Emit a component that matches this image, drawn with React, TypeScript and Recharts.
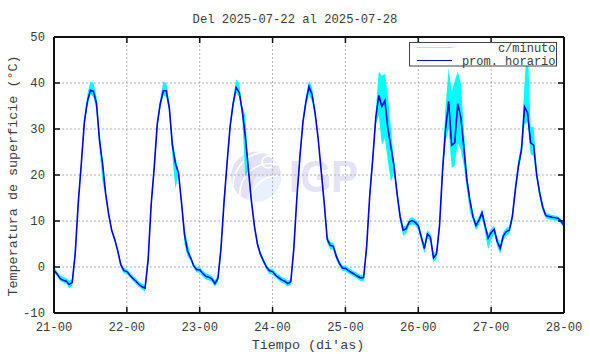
import { Area, CartesianGrid, ComposedChart, Line, XAxis, YAxis } from 'recharts';

// Temperatura de superficie, semana del 2025-07-22 (eje desde 21-00)
const etiquetasDias = ['21-00', '22-00', '23-00', '24-00', '25-00', '26-00', '27-00', '28-00'];
const ticksHoras = [0, 24, 48, 72, 96, 120, 144, 168];
const ticksTemp = [-10, 0, 10, 20, 30, 40, 50];

// promedio horario (una entrada por hora, 21-00 .. 28-00)
const promHorario = [
  -0.7, -1.5, -2.5, -2.9, -3.1, -3.8, -3.4, 3.0, 14.0, 22.5, 31.5, 36.0, 38.4, 38.2, 35.5, 27.5, 22.5, 16.0, 11.5, 8.0, 6.0, 3.5, 0.5, -0.8,
  -1.0, -1.8, -2.5, -3.1, -3.8, -4.3, -4.6, 1.5, 13.5, 21.5, 31.0, 35.5, 38.3, 38.3, 34.5, 26.5, 22.5, 20.5, 14.0, 7.0, 3.5, 2.0, 0.3, -0.6,
  -0.6, -1.4, -2.0, -2.2, -2.6, -3.6, -2.5, 4.0, 14.0, 22.5, 30.5, 35.5, 39.0, 38.0, 34.0, 28.5, 21.5, 14.5, 9.0, 5.0, 2.8, 1.3, 0.0, -0.8,
  -1.0, -1.8, -2.3, -2.8, -3.1, -3.6, -3.2, 4.0, 15.0, 24.0, 31.5, 36.0, 39.2, 37.5, 33.5, 28.0, 21.0, 14.0, 6.0, 4.7, 4.5, 2.3, 0.8, -0.2,
  -0.3, -0.8, -1.2, -1.6, -2.0, -2.4, -2.3, 4.5, 15.5, 23.5, 32.5, 37.3, 34.9, 36.2, 30.0, 26.0, 22.0, 16.0, 11.0, 8.0, 8.3, 9.8, 10.1, 9.7,
  9.0, 6.5, 4.0, 7.2, 6.5, 2.0, 2.8, 9.0, 21.0, 30.0, 36.0, 26.5, 27.0, 35.5, 32.5, 26.0, 19.0, 14.5, 11.0, 9.0, 10.2, 11.8, 9.0, 6.3,
  7.5, 8.2, 5.5, 4.0, 6.8, 7.7, 8.0, 11.0, 17.0, 22.0, 25.5, 34.8, 33.5, 27.0, 26.5, 20.0, 16.0, 13.0, 11.2, 11.0, 10.8, 10.7, 10.6, 10.0,
  9.0,
];

// datos c/minuto: maximo y minimo dentro de cada hora
const minutoMax = [
  0.0, -1.0, -1.8, -2.2, -2.4, -3.0, -2.6, 4.5, 15.0, 23.5, 32.5, 37.5, 40.3, 40.0, 37.0, 29.0, 23.0, 16.5, 12.0, 8.4, 6.5, 4.0, 1.0, -0.2,
  -0.5, -1.2, -1.9, -2.5, -3.2, -3.7, -3.8, 2.5, 14.5, 22.5, 32.0, 36.5, 40.3, 40.0, 35.5, 27.5, 24.0, 21.0, 14.5, 8.5, 5.2, 2.5, 0.8, 0.0,
  0.0, -0.8, -1.4, -1.6, -2.0, -2.9, -1.8, 5.0, 15.0, 23.5, 31.5, 36.5, 40.8, 40.0, 35.0, 33.0, 22.0, 15.0, 9.5, 5.6, 3.3, 1.8, 0.5, -0.3,
  -0.4, -1.2, -1.7, -2.2, -2.5, -3.0, -2.6, 5.0, 16.0, 25.0, 32.5, 37.0, 40.5, 39.0, 34.0, 28.5, 21.5, 14.5, 6.8, 5.5, 5.2, 3.0, 1.4, 0.3,
  0.3, -0.2, -0.6, -1.0, -1.4, -1.8, -1.6, 5.5, 16.5, 24.5, 34.0, 42.5, 41.5, 42.0, 37.0, 30.0, 23.0, 17.0, 12.0, 8.8, 9.0, 10.5, 10.8, 10.3,
  9.8, 7.2, 4.8, 8.0, 7.2, 3.0, 3.5, 10.0, 23.0, 35.0, 43.2, 38.0, 40.5, 42.5, 40.0, 30.0, 20.5, 15.5, 12.0, 9.8, 11.0, 12.5, 9.8, 7.2,
  8.3, 9.0, 6.5, 5.0, 7.6, 8.5, 8.8, 12.0, 18.0, 23.5, 27.0, 40.0, 49.5, 30.5, 30.5, 21.0, 17.0, 13.8, 11.8, 11.5, 11.3, 11.2, 11.0, 10.5,
  9.4,
];
const minutoMin = [
  -1.2, -2.0, -3.0, -3.3, -3.6, -4.6, -4.0, 2.5, 13.0, 21.5, 30.5, 35.0, 37.5, 37.0, 34.0, 25.5, 18.5, 15.5, 11.0, 7.6, 5.5, 3.0, 0.0, -1.3,
  -1.5, -2.3, -3.0, -3.7, -4.3, -4.9, -5.3, 0.5, 12.5, 20.5, 30.0, 34.5, 37.3, 37.0, 33.5, 24.0, 17.0, 20.0, 13.5, 5.0, 2.3, 1.4, -0.2, -1.2,
  -1.2, -2.1, -2.7, -2.9, -3.2, -4.3, -3.2, 3.0, 13.0, 21.5, 29.5, 34.5, 37.8, 37.0, 33.0, 19.5, 21.0, 14.0, 8.5, 4.4, 2.3, 0.8, -0.6, -1.6,
  -1.6, -2.4, -2.9, -3.4, -3.7, -4.3, -3.8, 3.0, 14.0, 23.0, 30.5, 35.0, 37.5, 36.0, 33.0, 27.5, 20.5, 13.5, 5.2, 3.8, 3.8, 1.6, 0.2, -0.8,
  -0.9, -1.4, -1.8, -2.2, -2.6, -3.1, -3.0, 3.5, 14.5, 22.5, 31.0, 33.0, 26.5, 28.0, 23.0, 18.5, 20.5, 15.0, 10.0, 6.8, 7.3, 9.0, 9.3, 9.0,
  8.0, 5.5, 3.0, 6.3, 5.5, 1.0, 1.8, 8.0, 19.5, 27.5, 30.0, 21.5, 22.0, 27.0, 25.5, 22.0, 17.0, 12.0, 10.0, 8.0, 9.2, 10.8, 7.5, 3.8,
  6.0, 7.3, 4.5, 2.8, 5.8, 6.8, 7.2, 10.0, 16.0, 21.0, 24.5, 31.0, 31.5, 24.5, 24.0, 19.0, 15.0, 12.2, 10.6, 10.4, 10.2, 10.1, 10.0, 9.4,
  8.6,
];

const rows = promHorario.map((v, i) => ({ t: i, prom: v, rango: [minutoMin[i], minutoMax[i]] }));

const W = 590;
const H = 354;
const FONT = '"Liberation Mono", "DejaVu Sans Mono", monospace';
const INK = '#3c3c3c';

function LeftTick({ x, y, payload }: any) {
  return (
    <g>
      <line x1={x} x2={x + 6} y1={y} y2={y} stroke="#111" strokeWidth={1.5} />
      <text x={x - 9} y={y} dy="0.36em" textAnchor="end" fontFamily={FONT} fontSize={12.2} fill={INK}>
        {payload.value}
      </text>
    </g>
  );
}

function RightTick({ x, y }: any) {
  return <line x1={x} x2={x - 6} y1={y} y2={y} stroke="#111" strokeWidth={1.5} />;
}

function BottomTick({ x, y, payload }: any) {
  return (
    <g>
      <line x1={x} x2={x} y1={y} y2={y - 6} stroke="#111" strokeWidth={1.5} />
      <text x={x} y={y + 18} textAnchor="middle" fontFamily={FONT} fontSize={12.2} fill={INK}>
        {etiquetasDias[ticksHoras.indexOf(payload.value)]}
      </text>
    </g>
  );
}

function TopTick({ x, y }: any) {
  return <line x1={x} x2={x} y1={y} y2={y + 6} stroke="#111" strokeWidth={1.5} />;
}

function MarcaAgua() {
  return (
    <svg width={W} height={H} style={{ position: 'absolute', left: 0, top: 0 }}>
      <circle cx={256} cy={176.5} r={25} fill="#e2e2f3" />
      <path d="M256 176.5 L281 176.5 A25 25 0 0 1 246 199.5 Z" fill="#e8f1fc" />
      <path d="M233 186 A34 34 0 0 1 268 152" stroke="#fff" strokeWidth={1.6} fill="none" />
      <path d="M240 196 A30 30 0 0 1 279 165" stroke="#fff" strokeWidth={1.6} fill="none" />
      <path d="M250 201 A28 28 0 0 1 281 176" stroke="#fff" strokeWidth={1.6} fill="none" />
      <circle cx={268} cy={162} r={6} stroke="#fff" strokeWidth={1.6} fill="none" />
      <text
        x={289}
        y={192}
        fontFamily='"Liberation Sans", Arial, sans-serif'
        fontWeight={700}
        fontSize={44}
        fill="#e3e3f3"
        textLength={69}
        lengthAdjust="spacingAndGlyphs"
      >
        IGP
      </text>
    </svg>
  );
}

function Leyenda() {
  return (
    <svg width={W} height={H} style={{ position: 'absolute', left: 0, top: 0, pointerEvents: 'none' }}>
      <rect x={409.5} y={42.5} width={147} height={23.5} fill="#fff" stroke="#444" strokeWidth={1} />
      <line x1={417} x2={452} y1={47.5} y2={47.5} stroke="#7ff" strokeWidth={1} />
      <text x={555.5} y={51.5} textAnchor="end" fontFamily={FONT} fontSize={12} fill={INK}>
        c/minuto
      </text>
      <line x1={417} x2={452} y1={60.5} y2={60.5} stroke="#0000ff" strokeWidth={1.2} />
      <text x={555.5} y={64.5} textAnchor="end" fontFamily={FONT} fontSize={12} fill={INK}>
        prom. horario
      </text>
    </svg>
  );
}

export default function App() {
  return (
    <div style={{ position: 'absolute', left: 0, top: 0, width: W, height: H, background: '#fff', overflow: 'hidden' }}>
      <MarcaAgua />
      <div style={{ position: 'absolute', left: 0, top: 0 }}>
        <ComposedChart width={W} height={H} data={rows} margin={{ top: 0, right: 0, bottom: 0, left: 0 }}>
          <CartesianGrid stroke="#b0b0b0" strokeDasharray="2 2" />
          <XAxis
            dataKey="t"
            type="number"
            domain={[0, 168]}
            ticks={ticksHoras}
            height={41}
            tickSize={0}
            tickMargin={0}
            tick={BottomTick}
            tickLine={false}
            axisLine={{ stroke: '#111', strokeWidth: 2 }}
            interval={0}
          />
          <XAxis
            xAxisId="arriba"
            orientation="top"
            dataKey="t"
            type="number"
            domain={[0, 168]}
            ticks={ticksHoras}
            height={37}
            tickSize={0}
            tickMargin={0}
            tick={TopTick}
            tickLine={false}
            axisLine={{ stroke: '#111', strokeWidth: 2 }}
            interval={0}
          />
          <YAxis
            type="number"
            domain={[-10, 50]}
            ticks={ticksTemp}
            width={54}
            tickSize={0}
            tickMargin={0}
            tick={LeftTick}
            tickLine={false}
            axisLine={{ stroke: '#111', strokeWidth: 2 }}
            interval={0}
            allowDataOverflow
          />
          <YAxis
            yAxisId="der"
            orientation="right"
            type="number"
            domain={[-10, 50]}
            ticks={ticksTemp}
            width={26}
            tickSize={0}
            tickMargin={0}
            tick={RightTick}
            tickLine={false}
            axisLine={{ stroke: '#111', strokeWidth: 2 }}
            interval={0}
            allowDataOverflow
          />
          <Area
            type="linear"
            dataKey="rango"
            stroke="none"
            fill="#00ffff"
            fillOpacity={1}
            dot={false}
            activeDot={false}
            isAnimationActive={false}
          />
          <Line
            type="linear"
            dataKey="prom"
            stroke="#0000ff"
            strokeWidth={1.6}
            dot={false}
            activeDot={false}
            isAnimationActive={false}
          />
        </ComposedChart>
      </div>
      <Leyenda />
      <svg width={W} height={H} style={{ position: 'absolute', left: 0, top: 0, pointerEvents: 'none' }}>
        <text x={295} y={22.5} textAnchor="middle" fontFamily={FONT} fontSize={12.2} fill={INK}>
          Del 2025-07-22 al 2025-07-28
        </text>
        <text x={308} y={349} textAnchor="middle" fontFamily={FONT} fontSize={13.4} fill={INK}>
          Tiempo (di'as)
        </text>
        <text
          transform="translate(16.5 176) rotate(-90)"
          textAnchor="middle"
          fontFamily={FONT}
          fontSize={13.4}
          fill={INK}
        >
          Temperatura de superficie (°C)
        </text>
      </svg>
    </div>
  );
}
